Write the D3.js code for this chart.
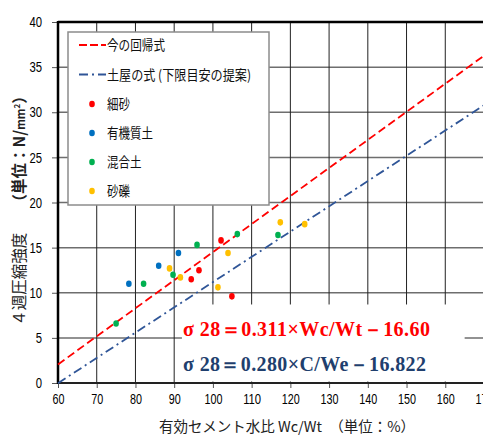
<!DOCTYPE html>
<html>
<head>
<meta charset="utf-8">
<script src="https://cdn.jsdelivr.net/npm/d3@7"></script>
<style>
  body { margin: 0; background: #fff; }
  svg { display: block; }
</style>
</head>
<body>
<div id="chart"></div>
<script>
const width = 483
const height = 437

// data
const xTicks = [60, 70, 80, 90, 100, 110, 120, 130, 140, 150, 160, 170]
const yTicks = [0, 5, 10, 15, 20, 25, 30, 35, 40]
const categories = ["細砂", "有機質土", "混合土", "砂礫"]
const catColors = ["#ff0000", "#0070c0", "#00b050", "#ffc000"]
const pointsSaiSa = [[102.1, 15.8], [96.4, 12.5], [94.4, 11.5], [104.9, 9.6]]
const pointsYuki = [[78.3, 11.0], [86.0, 13.0], [91.1, 14.4]]
const pointsKongo = [[75.0, 6.6], [82.1, 11.0], [89.7, 12.0], [95.9, 15.3], [106.3, 16.5], [116.8, 16.4]]
const pointsSareki = [[88.8, 12.7], [91.6, 11.7], [101.3, 10.6], [103.9, 14.4], [117.4, 17.8], [123.7, 17.6]]
const lineNames = ["今の回帰式", "土屋の式 (下限目安の提案)"]
const lineCoefs = [[0.311, -16.60], [0.280, -16.822]]
const equations = ["σ 28＝0.311×Wc/Wt－16.60", "σ 28＝0.280×C/We－16.822"]

const series = [pointsSaiSa, pointsYuki, pointsKongo, pointsSareki]

const margin = { top: 22, left: 58, bottom: 54 }
const x = d3.scaleLinear().domain([60, 170]).range([margin.left, 484])
const y = d3.scaleLinear().domain([0, 40]).range([383, margin.top])

const svg = d3.select("#chart").append("svg")
  .attr("width", width)
  .attr("height", height)

const tickFont = "'Liberation Sans Narrow', 'Liberation Sans', sans-serif"
const jpFont = "'Noto Sans CJK JP', sans-serif"

// gridlines
svg.append("g").selectAll("line.h")
  .data(yTicks.filter(d => d > 0 && d < 40))
  .enter().append("line")
  .attr("x1", x(60)).attr("x2", width)
  .attr("y1", d => y(d)).attr("y2", d => y(d))
  .style("stroke", "#6e6e6e").style("stroke-width", 1.5)

svg.append("g").selectAll("line.v")
  .data(xTicks.filter(d => d > 60 && d < 170))
  .enter().append("line")
  .attr("x1", d => x(d)).attr("x2", d => x(d))
  .attr("y1", y(40)).attr("y2", y(0))
  .style("stroke", "#222").style("stroke-width", 1)

// axes
const xAxis = svg.append("g")
  .attr("transform", `translate(0,${y(0)})`)
  .call(d3.axisBottom(x).tickValues(xTicks).tickSize(5).tickFormat(d3.format("d")))
xAxis.select(".domain").remove()
xAxis.selectAll("line").style("stroke", "#555")
xAxis.selectAll("text")
  .attr("y", 11)
  .attr("dy", "0.71em")
  .attr("textLength", d => String(d).length * 6)
  .attr("lengthAdjust", "spacingAndGlyphs")
  .style("font-family", tickFont)
  .style("font-size", "14.5px")
  .style("fill", "#000")

const yAxis = svg.append("g")
  .attr("transform", `translate(${x(60)},0)`)
  .call(d3.axisLeft(y).tickValues(yTicks).tickSize(6))
yAxis.select(".domain").remove()
yAxis.selectAll("line").style("stroke", "#555")
yAxis.selectAll("text")
  .attr("x", -16)
  .attr("textLength", d => String(d).length * 6.3)
  .attr("lengthAdjust", "spacingAndGlyphs")
  .style("font-family", tickFont)
  .style("font-size", "14.5px")
  .style("fill", "#000")

// frame lines
svg.append("line").attr("x1", x(60)).attr("x2", width).attr("y1", y(40)).attr("y2", y(40))
  .style("stroke", "#000").style("stroke-width", 2.5)
svg.append("line").attr("x1", x(60)).attr("x2", x(60)).attr("y1", y(40) - 1).attr("y2", y(0) + 1)
  .style("stroke", "#000").style("stroke-width", 2.5)
svg.append("line").attr("x1", x(60)).attr("x2", width).attr("y1", y(0)).attr("y2", y(0))
  .style("stroke", "#222").style("stroke-width", 2)

// white box behind the equations
svg.append("rect")
  .attr("x", x(92)).attr("y", y(8.7))
  .attr("width", x(165) - x(92)).attr("height", y(0) - y(8.7) - 1.5)
  .style("fill", "#fff")

// regression lines
const lineStyles = [
  { color: "#ff0000", dash: "8,4" },
  { color: "#2f5597", dash: "9,4,2,4" }
]
lineCoefs.forEach((c, i) => {
  svg.append("line")
    .attr("x1", x(60)).attr("y1", y(c[0] * 60 + c[1]))
    .attr("x2", x(170)).attr("y2", y(c[0] * 170 + c[1]))
    .style("stroke", lineStyles[i].color)
    .style("stroke-width", 1.8)
    .style("stroke-dasharray", lineStyles[i].dash)
})

// points
series.forEach((pts, i) => {
  svg.append("g").selectAll("ellipse")
    .data(pts)
    .enter().append("ellipse")
    .attr("cx", d => x(d[0]))
    .attr("cy", d => y(d[1]))
    .attr("rx", 2.8).attr("ry", 3.3)
    .style("fill", catColors[i])
})

// equations
const eqColors = ["#ff0000", "#1f3f6e"]
const eqWidths = [247, 243]
equations.forEach((t, i) => {
  svg.append("text")
    .attr("x", 183).attr("y", 336 + i * 35)
    .attr("textLength", eqWidths[i])
    .attr("lengthAdjust", "spacing")
    .style("font-family", "'Liberation Serif', 'DejaVu Serif', serif")
    .style("font-weight", "bold")
    .style("font-size", "20px")
    .style("fill", eqColors[i])
    .text(t)
})

// legend
const legend = svg.append("g")
legend.append("rect")
  .attr("x", 68).attr("y", 32).attr("width", 201).attr("height", 173)
  .style("fill", "#fff").style("stroke", "#8c8c8c").style("stroke-width", 1.5)

const nameWidths = [58, 144]
lineNames.forEach((n, i) => {
  const ly = 45 + i * 29.5
  legend.append("line")
    .attr("x1", 79).attr("x2", 106).attr("y1", ly).attr("y2", ly)
    .style("stroke", lineStyles[i].color).style("stroke-width", 1.8)
    .style("stroke-dasharray", i == 0 ? "8,3" : "9,4,2,4")
  legend.append("text")
    .attr("x", 107).attr("y", ly + 5)
    .attr("textLength", nameWidths[i])
    .attr("lengthAdjust", "spacingAndGlyphs")
    .style("font-family", jpFont).style("font-size", "14px").style("fill", "#111")
    .text(n)
})
categories.forEach((c, i) => {
  const ly = 104 + i * 29
  legend.append("ellipse")
    .attr("cx", 92).attr("cy", ly).attr("rx", 2.8).attr("ry", 3.3)
    .style("fill", catColors[i])
  legend.append("text")
    .attr("x", 107).attr("y", ly + 5)
    .attr("textLength", c.length * 11.5)
    .attr("lengthAdjust", "spacingAndGlyphs")
    .style("font-family", jpFont).style("font-size", "14px").style("fill", "#111")
    .text(c)
})

// axis titles
svg.append("text")
  .attr("x", 287).attr("y", 432)
  .attr("text-anchor", "middle")
  .style("font-family", jpFont).style("font-size", "14.5px").style("fill", "#222")
  .text("有効セメント水比 Wc/Wt　（単位：%）")

const yt = svg.append("text")
  .attr("transform", "translate(25,207) rotate(-90)")
  .attr("text-anchor", "middle")
  .style("font-family", jpFont).style("font-size", "15.5px").style("fill", "#222")
yt.append("tspan").text("４週圧縮強度　　")
yt.append("tspan").style("font-weight", "bold").text("（単位：N/")
yt.append("tspan").style("font-weight", "bold").style("font-size", "11px").text("mm")
yt.append("tspan").style("font-weight", "bold").style("font-size", "8px").attr("dy", -5).text("2")
yt.append("tspan").style("font-weight", "bold").attr("dy", 5).text("）")
</script>
</body>
</html>
